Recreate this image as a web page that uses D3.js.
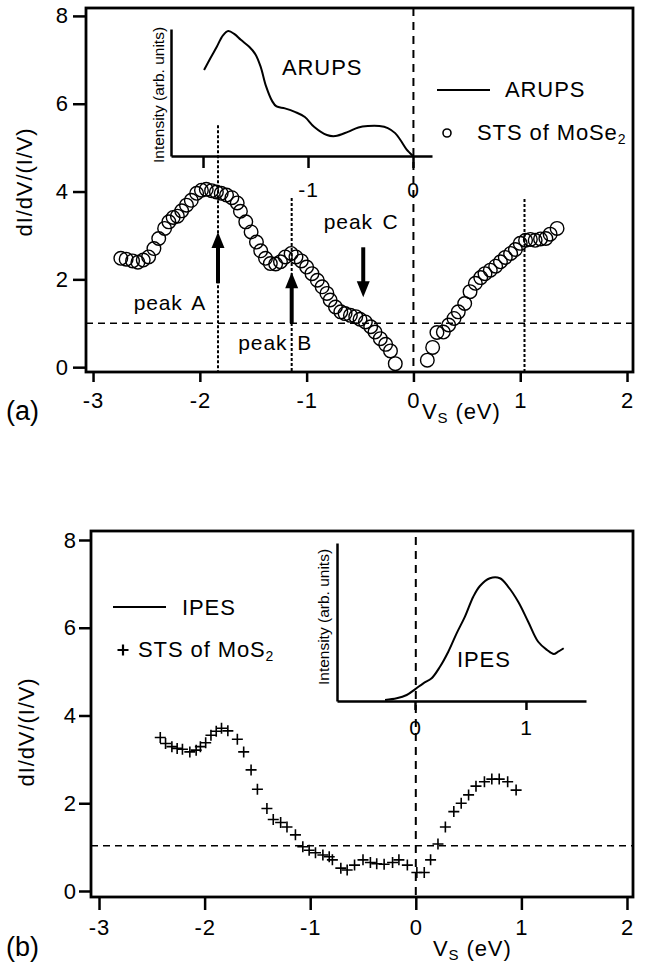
<!DOCTYPE html>
<html>
<head>
<meta charset="utf-8">
<script src="https://cdn.jsdelivr.net/npm/d3@7"></script>
<style>
body { margin: 0; background: #fff; }
svg { display: block; font-family: "Liberation Sans", Arial, Helvetica, sans-serif; }
.lbl { letter-spacing: 0.9px; }
</style>
</head>
<body>
<svg id="chart" width="649" height="966"></svg>
<script>
// (a) STS of MoSe2: [Vs (eV), dI/dV/(I/V)]
const stsMoSe2 = [
  [-2.74,2.48],[-2.69,2.46],[-2.63,2.42],[-2.58,2.39],[-2.53,2.44],[-2.48,2.51],[-2.43,2.70],[-2.385,2.93],
  [-2.33,3.16],[-2.29,3.31],[-2.25,3.41],[-2.21,3.44],[-2.17,3.56],[-2.125,3.69],[-2.08,3.80],[-2.03,3.96],
  [-1.985,4.03],[-1.94,4.05],[-1.89,4.02],[-1.845,3.99],[-1.80,3.96],[-1.75,3.92],[-1.70,3.86],[-1.65,3.74],
  [-1.62,3.55],[-1.57,3.31],[-1.52,3.08],[-1.47,2.85],[-1.43,2.65],[-1.385,2.48],[-1.34,2.36],[-1.29,2.35],
  [-1.245,2.40],[-1.20,2.51],[-1.145,2.59],[-1.10,2.51],[-1.05,2.42],[-1.00,2.28],[-0.95,2.13],[-0.90,1.98],
  [-0.855,1.83],[-0.81,1.68],[-0.78,1.53],[-0.73,1.37],[-0.68,1.26],[-0.64,1.22],[-0.59,1.18],[-0.54,1.15],
  [-0.50,1.09],[-0.45,1.03],[-0.40,0.92],[-0.36,0.80],[-0.31,0.65],[-0.26,0.52],[-0.215,0.37],[-0.17,0.08],
  [0.13,0.16],[0.18,0.45],[0.22,0.79],[0.28,0.80],[0.33,0.96],[0.38,1.11],[0.42,1.26],[0.48,1.45],
  [0.53,1.72],[0.58,1.91],[0.63,2.04],[0.67,2.13],[0.72,2.21],[0.77,2.30],[0.815,2.40],[0.86,2.50],
  [0.91,2.59],[0.955,2.68],[1.00,2.82],[1.05,2.89],[1.095,2.91],[1.14,2.89],[1.19,2.92],[1.24,2.93],
  [1.28,3.03],[1.345,3.16]
];
// (a) inset ARUPS: [energy (eV), intensity (arb.)]
const arups = [
  [-1.99,0.677],[-1.93,0.77],[-1.87,0.858],[-1.81,0.95],[-1.76,0.984],[-1.70,0.96],[-1.64,0.915],[-1.56,0.86],
  [-1.50,0.80],[-1.45,0.70],[-1.40,0.55],[-1.34,0.43],[-1.30,0.39],[-1.22,0.375],[-1.12,0.346],[-1.03,0.307],
  [-0.94,0.228],[-0.82,0.165],[-0.74,0.157],[-0.62,0.19],[-0.52,0.225],[-0.43,0.236],[-0.32,0.236],[-0.24,0.22],
  [-0.17,0.18],[-0.12,0.126],[-0.06,0.05],[-0.03,0.024],[0,0]
];
// (b) STS of MoS2
const stsMoS2 = [
  [-2.42,3.50],[-2.37,3.36],[-2.31,3.29],[-2.26,3.25],[-2.21,3.23],[-2.14,3.17],[-2.08,3.21],[-2.04,3.29],
  [-1.99,3.38],[-1.94,3.55],[-1.89,3.64],[-1.84,3.71],[-1.78,3.65],[-1.69,3.46],[-1.63,3.17],[-1.56,2.76],
  [-1.50,2.32],[-1.41,1.88],[-1.35,1.63],[-1.28,1.56],[-1.22,1.46],[-1.14,1.28],[-1.07,1.01],[-1.01,0.93],
  [-0.95,0.87],[-0.88,0.82],[-0.82,0.78],[-0.79,0.71],[-0.71,0.52],[-0.65,0.48],[-0.58,0.59],[-0.50,0.71],
  [-0.43,0.65],[-0.37,0.62],[-0.30,0.61],[-0.22,0.65],[-0.16,0.71],[-0.08,0.59],[0.01,0.42],[0.08,0.42],
  [0.14,0.71],[0.21,1.07],[0.28,1.46],[0.36,1.81],[0.43,2.00],[0.50,2.19],[0.57,2.39],[0.65,2.49],
  [0.72,2.55],[0.79,2.55],[0.87,2.49],[0.95,2.30]
];
// (b) inset IPES
const ipes = [
  [-0.27,0.006],[-0.165,0.017],[-0.075,0.038],[0,0.074],[0.075,0.112],[0.15,0.144],[0.225,0.217],[0.30,0.312],
  [0.375,0.428],[0.45,0.534],[0.525,0.66],[0.585,0.728],[0.675,0.777],[0.765,0.777],[0.84,0.723],[0.93,0.628],
  [1.02,0.502],[1.11,0.375],[1.19,0.323],[1.25,0.297],[1.29,0.312],[1.34,0.334]
];

const mainTicksX = [-3, -2, -1, 0, 1, 2];
const mainTicksY = [0, 2, 4, 6, 8];
const arupsTicks = [-2, -1, 0];
const arupsTickLabels = ['', '-1', '0'];
const ipesTicks = [0, 1];

// peak markers in (a)
const peakEnergies = [-1.83, -1.14, 1.04];
const peakLineTops = [5.51, 3.85, 3.83];
const arrowX = [-1.83, -1.14, -0.47];
const arrowFrom = [1.91, 1.0, 2.73];
const arrowTo = [3.08, 2.16, 1.59];
const peakNames = ['peak A', 'peak B', 'peak C'];
const peakLabelAt = [[-2.62, 1.30], [-1.64, 0.39], [-0.84, 3.14]];

const refLevelA = 1.0;
const refLevelB = 1.03;

const svg = d3.select('#chart');

function mainPanel(box, xDom, yDom, opt) {
  const x = d3.scaleLinear().domain(xDom).range([box.l, box.r]);
  const y = d3.scaleLinear().domain(yDom).range([box.b, box.t]);
  const g = svg.append('g');

  const xAxis = g.append('g')
    .attr('transform', `translate(0,${box.b})`)
    .call(d3.axisBottom(x).tickValues(mainTicksX).tickSize(opt.xTick).tickPadding(opt.xPad).tickFormat(d => String(d)));
  const yAxis = g.append('g')
    .attr('transform', `translate(${box.l},0)`)
    .call(d3.axisLeft(y).tickValues(mainTicksY).tickSize(opt.yTick).tickPadding(opt.yPad).tickFormat(d => String(d)));
  [xAxis, yAxis].forEach(a => {
    a.select('.domain').remove();
    a.selectAll('line').attr('stroke', '#000').attr('stroke-width', 2.5);
    a.selectAll('text').attr('fill', '#000').attr('font-size', 22).attr('class', 'lbl')
      .attr('font-family', '"Liberation Sans", Arial, sans-serif');
  });

  g.append('rect')
    .attr('x', box.l).attr('y', box.t)
    .attr('width', box.r - box.l).attr('height', box.b - box.t)
    .attr('fill', 'none').attr('stroke', '#000').attr('stroke-width', 2.8);

  // axis titles
  g.append('text').attr('class', 'lbl')
    .attr('transform', `translate(${opt.yLabelX},${opt.yLabelY}) rotate(-90)`)
    .attr('text-anchor', 'middle').attr('font-size', 22)
    .text('dI/dV/(I/V)');
  const vs = g.append('text').attr('class', 'lbl')
    .attr('x', opt.vsX).attr('y', opt.vsY).attr('font-size', 22);
  vs.append('tspan').text('V');
  vs.append('tspan').attr('font-size', 15).attr('dy', 4).text('S');
  vs.append('tspan').attr('dy', -4).text(' (eV)');
  g.append('text').attr('x', 6).attr('y', opt.tagY).attr('font-size', 27).text(opt.tag);

  return { x, y, g, box };
}

function dashH(p, val, dash, w) {
  p.g.append('line')
    .attr('x1', p.box.l).attr('x2', p.box.r)
    .attr('y1', p.y(val)).attr('y2', p.y(val))
    .attr('stroke', '#000').attr('stroke-width', w).attr('stroke-dasharray', dash);
}
function dashV(p, val, top, dash, w) {
  p.g.append('line')
    .attr('x1', p.x(val)).attr('x2', p.x(val))
    .attr('y1', top).attr('y2', p.box.b)
    .attr('stroke', '#000').attr('stroke-width', w).attr('stroke-dasharray', dash);
}

// ---------- panel (a) ----------
const pa = mainPanel({ l: 86, r: 633, t: 8, b: 372 }, [-3.066, 2.056], [-0.11, 8.18],
  { xTick: 10, xPad: 10, yTick: 13, yPad: 4, yLabelX: 32, yLabelY: 182, vsX: 422, vsY: 419, tagY: 420, tag: '(a)' });

// inset ARUPS
const xa = d3.scaleLinear().domain([-2.305, 0.181]).range([171, 432]);
const ya = d3.scaleLinear().domain([0, 1]).range([156, 29]);
const insA = pa.g.append('g');
const axA = insA.append('g').attr('transform', `translate(0,${ya(0)})`)
  .call(d3.axisBottom(xa).tickValues(arupsTicks).tickSize(12).tickPadding(14).tickSizeOuter(0)
    .tickFormat((d, i) => arupsTickLabels[i]));
const axAy = insA.append('g').attr('transform', `translate(${xa.range()[0]},0)`)
  .call(d3.axisLeft(ya).tickValues([]).tickSizeOuter(0));
[axA, axAy].forEach(a => {
  a.selectAll('.domain, line').attr('stroke', '#000').attr('stroke-width', 2.5);
  a.selectAll('text').attr('fill', '#000').attr('font-size', 21).attr('class', 'lbl')
    .attr('font-family', '"Liberation Sans", Arial, sans-serif');
});
insA.append('path').datum(arups)
  .attr('d', d3.line().x(d => xa(d[0])).y(d => ya(d[1])).curve(d3.curveCatmullRom))
  .attr('fill', 'none').attr('stroke', '#000').attr('stroke-width', 2);
insA.append('text').attr('transform', `translate(164,95) rotate(-90)`)
  .attr('text-anchor', 'middle').attr('font-size', 15.5).text('Intensity (arb. units)');
insA.append('text').attr('class', 'lbl').attr('x', 282).attr('y', 75).attr('font-size', 22).text('ARUPS');

// reference lines
dashV(pa, 0, pa.box.t, '8,6', 2);
dashH(pa, refLevelA, '7,5', 1.6);
peakEnergies.forEach((e, i) => dashV(pa, e, pa.y(peakLineTops[i]), '3,2', 2));

// STS circles
pa.g.append('g').selectAll('circle').data(stsMoSe2).join('circle')
  .attr('cx', d => pa.x(d[0])).attr('cy', d => pa.y(d[1])).attr('r', 6.8)
  .attr('fill', 'none').attr('stroke', '#000').attr('stroke-width', 1.4);

// arrows
arrowX.forEach((ax, i) => {
  const px = pa.x(ax), y0 = pa.y(arrowFrom[i]), y1 = pa.y(arrowTo[i]);
  const dir = y1 < y0 ? 1 : -1;
  const headLen = 16, headW = 6.5;
  pa.g.append('line').attr('x1', px).attr('x2', px)
    .attr('y1', y0).attr('y2', y1 + dir * (headLen - 2))
    .attr('stroke', '#000').attr('stroke-width', 4);
  pa.g.append('path')
    .attr('d', `M${px},${y1}L${px - headW},${y1 + dir * headLen}L${px + headW},${y1 + dir * headLen}Z`)
    .attr('fill', '#000');
});
peakNames.forEach((t, i) => {
  pa.g.append('text').attr('class', 'lbl').attr('x', pa.x(peakLabelAt[i][0])).attr('y', pa.y(peakLabelAt[i][1]))
    .attr('font-size', 21).attr('word-spacing', 3).text(t);
});

// legend (a)
pa.g.append('line').attr('x1', 437).attr('x2', 490).attr('y1', 90).attr('y2', 90)
  .attr('stroke', '#000').attr('stroke-width', 2);
pa.g.append('text').attr('class', 'lbl').attr('x', 505).attr('y', 97).attr('font-size', 22).text('ARUPS');
pa.g.append('circle').attr('cx', 447).attr('cy', 133).attr('r', 4)
  .attr('fill', 'none').attr('stroke', '#000').attr('stroke-width', 1.6);
const lgA = pa.g.append('text').attr('class', 'lbl').attr('x', 477).attr('y', 140).attr('font-size', 22);
lgA.append('tspan').text('STS of MoSe');
lgA.append('tspan').attr('font-size', 14).attr('dy', 4).text('2');

// ---------- panel (b) ----------
const pb = mainPanel({ l: 91, r: 633, t: 531, b: 897 }, [-3.076, 2.057], [-0.137, 8.205],
  { xTick: 13, xPad: 9, yTick: 12, yPad: 2, yLabelX: 34, yLabelY: 732, vsX: 433, vsY: 956, tagY: 956, tag: '(b)' });

const xb = d3.scaleLinear().domain([-0.703, 1.541]).range([337, 586]);
const yb = d3.scaleLinear().domain([0, 1]).range([701, 543]);
const insB = pb.g.append('g');
const axB = insB.append('g').attr('transform', `translate(0,${yb(0)})`)
  .call(d3.axisBottom(xb).tickValues(ipesTicks).tickSize(9).tickPadding(10).tickSizeOuter(0)
    .tickFormat(d => String(d)));
const axBy = insB.append('g').attr('transform', `translate(${xb.range()[0]},0)`)
  .call(d3.axisLeft(yb).tickValues([]).tickSizeOuter(0));
[axB, axBy].forEach(a => {
  a.selectAll('.domain, line').attr('stroke', '#000').attr('stroke-width', 2.5);
  a.selectAll('text').attr('fill', '#000').attr('font-size', 21).attr('class', 'lbl')
    .attr('font-family', '"Liberation Sans", Arial, sans-serif');
});
insB.append('path').datum(ipes)
  .attr('d', d3.line().x(d => xb(d[0])).y(d => yb(d[1])).curve(d3.curveCatmullRom))
  .attr('fill', 'none').attr('stroke', '#000').attr('stroke-width', 2);
insB.append('text').attr('transform', `translate(329,617) rotate(-90)`)
  .attr('text-anchor', 'middle').attr('font-size', 15.5).text('Intensity (arb. units)');
insB.append('text').attr('class', 'lbl').attr('x', 457).attr('y', 667).attr('font-size', 22).text('IPES');

dashV(pb, 0, 537, '8,6', 2);
dashH(pb, refLevelB, '7,5', 1.6);

// STS crosses
pb.g.append('g').selectAll('path').data(stsMoS2).join('path')
  .attr('transform', d => `translate(${pb.x(d[0])},${pb.y(d[1])})`)
  .attr('d', 'M-5.5,0H5.5M0,-5.5V5.5')
  .attr('stroke', '#000').attr('stroke-width', 1.6).attr('fill', 'none');

// legend (b)
pb.g.append('line').attr('x1', 113).attr('x2', 166).attr('y1', 607).attr('y2', 607)
  .attr('stroke', '#000').attr('stroke-width', 2);
pb.g.append('text').attr('class', 'lbl').attr('x', 182).attr('y', 615).attr('font-size', 22).text('IPES');
pb.g.append('path').attr('transform', 'translate(123,650)')
  .attr('d', 'M-5.5,0H5.5M0,-5.5V5.5').attr('stroke', '#000').attr('stroke-width', 2.2);
const lgB = pb.g.append('text').attr('class', 'lbl').attr('x', 138).attr('y', 657).attr('font-size', 22);
lgB.append('tspan').text('STS of MoS');
lgB.append('tspan').attr('font-size', 14).attr('dy', 4).text('2');
</script>
</body>
</html>
